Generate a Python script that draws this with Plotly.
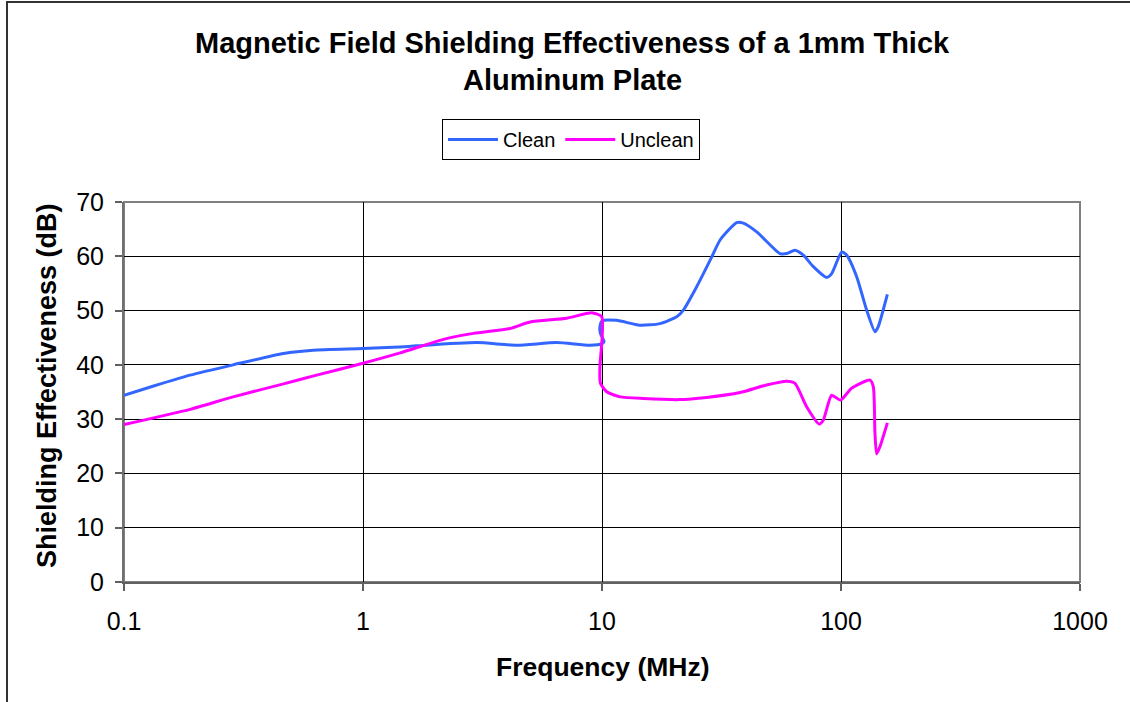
import plotly.graph_objects as go

clean_freq = [0.1, 0.133, 0.189, 0.286, 0.465, 0.62, 1.0, 1.43, 1.67, 2.99, 4.4, 6.46, 8.9, 10.0, 10.2,
              9.85, 9.8, 10.0, 11.5, 14.4, 17.5, 20.6, 21.9, 24.9, 28.8, 31.2, 36.6, 39.0, 44.4, 55.6,
              59.3, 64.2, 69.6, 76.6, 87.1, 91.4, 100.7, 105.7, 116.4, 128, 138.7, 143, 156.3]
clean_db = [34.4, 36.1, 38.1, 40.0, 42.1, 42.7, 43.0, 43.3, 43.5, 44.1, 43.6, 44.1, 43.6, 43.9, 44.3,
            45.8, 47.0, 48.1, 48.2, 47.3, 47.6, 48.9, 50.1, 54.4, 59.9, 63.0, 66.2, 66.1, 64.5, 60.5,
            60.5, 61.1, 60.2, 58.1, 56.1, 56.8, 60.8, 60.2, 56.2, 50.1, 46.1, 47.0, 53.0]

unclean_freq = [0.1, 0.189, 0.286, 0.465, 0.64, 1.0, 1.43, 2.17, 2.9, 4.12, 5.0, 7.12, 9.05, 9.97, 10.0,
                9.8, 9.85, 10.5, 11.9, 14.9, 21.1, 27.4, 37.8, 48.8, 59.3, 64.2, 71.8, 81.1, 84.3, 91.4,
                99.6, 110.7, 132.1, 136.5, 138.7, 141, 145.5, 156.3]
unclean_db = [29.0, 31.8, 34.1, 36.5, 38.1, 40.3, 42.2, 44.7, 45.8, 46.7, 47.9, 48.6, 49.6, 48.9, 44.6,
              39.7, 36.6, 35.0, 34.1, 33.8, 33.6, 34.0, 34.9, 36.3, 37.0, 36.6, 32.3, 29.1, 29.8, 34.4,
              33.5, 35.7, 37.2, 36.0, 27.4, 23.6, 24.9, 29.3]

x_tickvals = [0.1, 1, 10, 100, 1000]
x_ticktext = ["0.1", "1", "10", "100", "1000"]
y_tickvals = [0, 10, 20, 30, 40, 50, 60, 70]

title_lines = ["Magnetic Field Shielding Effectiveness of a 1mm Thick", "Aluminum Plate"]
x_title = "Frequency (MHz)"
y_title = "Shielding Effectiveness (dB)"

FONT = "Liberation Sans, Arial, sans-serif"

fig = go.Figure()
fig.add_trace(go.Scatter(x=clean_freq, y=clean_db, mode="lines", name="Clean",
                         line=dict(color="#3366FF", width=3, shape="spline", smoothing=0.6)))
fig.add_trace(go.Scatter(x=unclean_freq, y=unclean_db, mode="lines", name="Unclean",
                         line=dict(color="#FF00FF", width=3, shape="spline", smoothing=0.6)))

L, R, T, B = 124, 1080, 202, 582
W, H = 1130, 702
pw, ph = R - L, B - T

def px_x(px):
    return (px - L) / pw

def px_y(py):
    return (B - py) / ph

fig.update_layout(
    width=W, height=H,
    margin=dict(l=L, r=W - R, t=T, b=H - B, pad=0),
    paper_bgcolor="white", plot_bgcolor="white",
    font=dict(family=FONT, color="black", size=22),
    showlegend=True,
    legend=dict(orientation="h", x=px_x(571), xanchor="center", y=px_y(119), yanchor="top",
                bordercolor="black", borderwidth=1, font=dict(size=20, family=FONT),
                itemwidth=50, tracegroupgap=0, bgcolor="white"),
    xaxis=dict(type="log", range=[-1, 3], tickvals=x_tickvals, ticktext=x_ticktext,
               showgrid=True, gridcolor="black", gridwidth=1,
               showline=True, linecolor="#606060", linewidth=2,
               ticks="outside", ticklen=7, tickcolor="#606060", tickwidth=2,
               tickfont=dict(size=25, family=FONT), ticklabelstandoff=9, zeroline=False),
    yaxis=dict(range=[0, 70], tickvals=y_tickvals,
               showgrid=True, gridcolor="black", gridwidth=1,
               showline=True, linecolor="#707070", linewidth=2,
               ticks="outside", ticklen=7, tickcolor="#606060", tickwidth=2,
               tickfont=dict(size=25, family=FONT), ticklabelstandoff=6, zeroline=False),
)

# plot frame (gray top/right)
fig.add_shape(type="rect", xref="paper", yref="paper", x0=0, x1=1, y0=0, y1=1,
              line=dict(color="#808080", width=2), layer="below")
# outer chart border
fig.add_shape(type="rect", xref="paper", yref="paper",
              x0=px_x(7), x1=px_x(1160), y0=px_y(740), y1=px_y(2),
              line=dict(color="#333333", width=2), layer="below")

fig.add_annotation(text="<b>%s</b>" % title_lines[0], xref="paper", yref="paper",
                   x=px_x(572), y=px_y(43), xanchor="center", yanchor="middle", showarrow=False,
                   font=dict(size=29, family=FONT))
fig.add_annotation(text="<b>%s</b>" % title_lines[1], xref="paper", yref="paper",
                   x=px_x(572), y=px_y(80), xanchor="center", yanchor="middle", showarrow=False,
                   font=dict(size=29, family=FONT))
fig.add_annotation(text="<b>%s</b>" % x_title, xref="paper", yref="paper",
                   x=px_x(603), y=px_y(667), xanchor="center", yanchor="middle", showarrow=False,
                   font=dict(size=26.5, family=FONT))
fig.add_annotation(text="<b>%s</b>" % y_title, xref="paper", yref="paper",
                   x=px_x(47), y=px_y(386), xanchor="center", yanchor="middle", showarrow=False,
                   textangle=-90, font=dict(size=27, family=FONT))

fig.write_html("out.html")
